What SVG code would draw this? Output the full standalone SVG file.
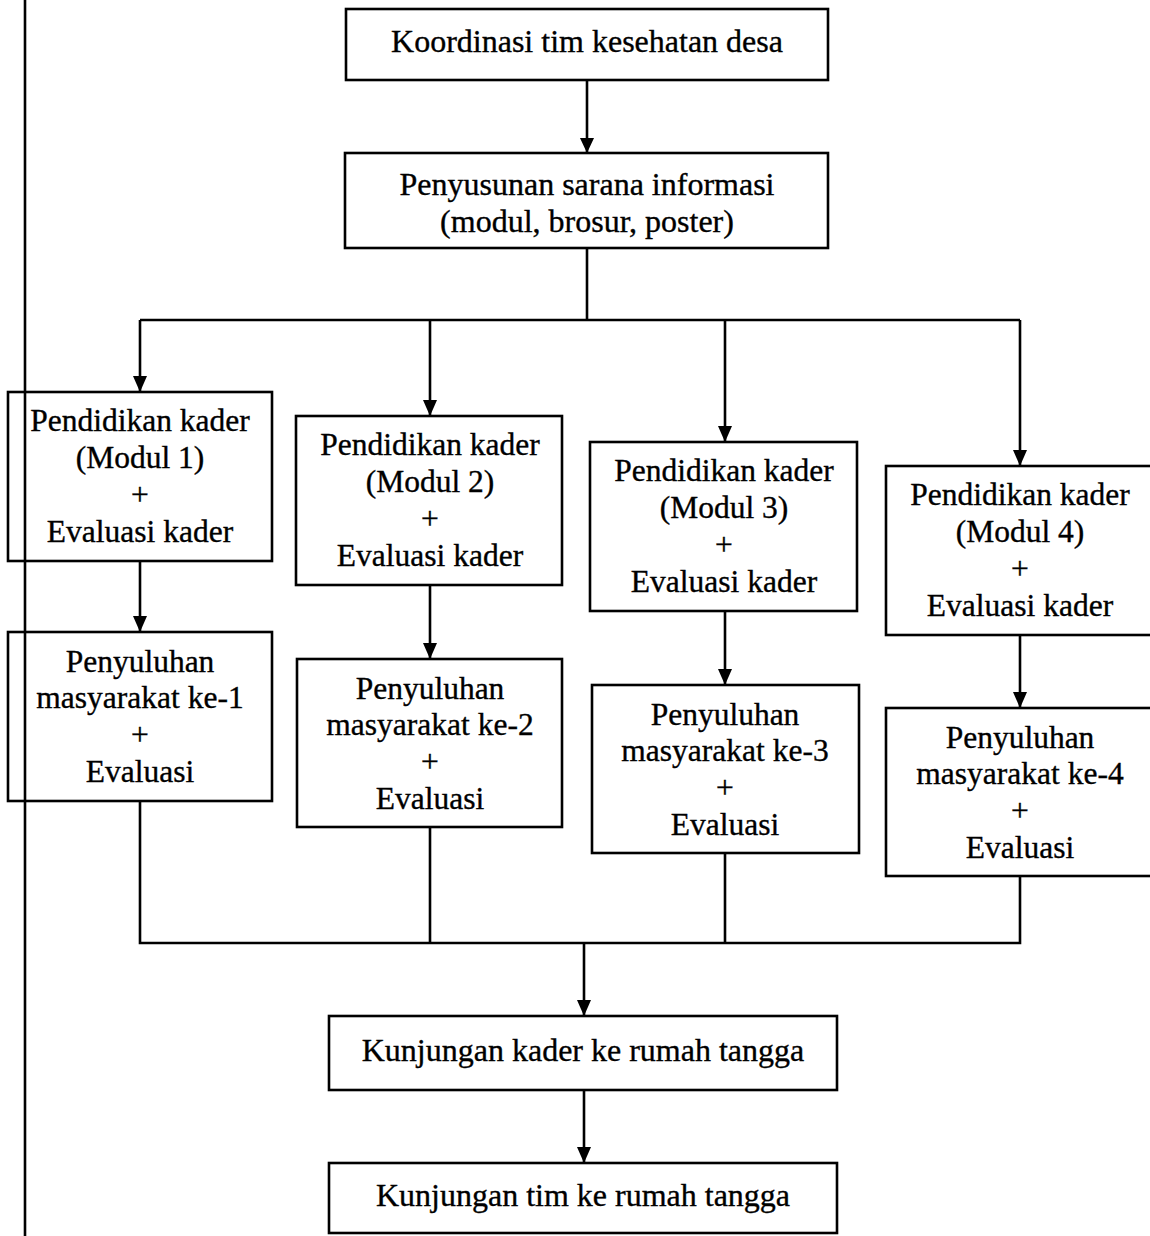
<svg xmlns="http://www.w3.org/2000/svg" width="1150" height="1236" viewBox="0 0 1150 1236">
<defs>
<style>
.box{fill:#fff;stroke:#000;stroke-width:2.6}
.t{font-family:"Liberation Serif","Times New Roman",serif;font-size:31.5px;fill:#000;stroke:#000;stroke-width:0.35;text-anchor:middle}
.c{fill:none;stroke:#000;stroke-width:2.6}
.ah{fill:#000}
</style>
</defs>
<rect width="1150" height="1236" fill="#fff"/>
<g id="connectors">
<path class="c" d="M587,80 V153"/>
<path class="c" d="M587,248 V320"/>
<path class="c" d="M140,320 H1020"/>
<path class="c" d="M140,320 V392"/>
<path class="c" d="M430,320 V416"/>
<path class="c" d="M725,320 V442"/>
<path class="c" d="M1020,320 V466"/>
<path class="c" d="M140,561 V632"/>
<path class="c" d="M430,585 V659"/>
<path class="c" d="M725,611 V685"/>
<path class="c" d="M1020,635 V708"/>
<path class="c" d="M140,801 V943 H1020 V876"/>
<path class="c" d="M430,827 V943"/>
<path class="c" d="M725,853 V943"/>
<path class="c" d="M584,943 V1016"/>
<path class="c" d="M584,1090 V1163"/>
<path class="ah" d="M580,138 L594,138 L587,153 Z"/>
<path class="ah" d="M133,376 L147,376 L140,392 Z"/>
<path class="ah" d="M423,400 L437,400 L430,416 Z"/>
<path class="ah" d="M718,426 L732,426 L725,442 Z"/>
<path class="ah" d="M1013,450 L1027,450 L1020,466 Z"/>
<path class="ah" d="M133,616 L147,616 L140,632 Z"/>
<path class="ah" d="M423,643 L437,643 L430,659 Z"/>
<path class="ah" d="M718,669 L732,669 L725,685 Z"/>
<path class="ah" d="M1013,692 L1027,692 L1020,708 Z"/>
<path class="ah" d="M577,1000 L591,1000 L584,1016 Z"/>
<path class="ah" d="M577,1147 L591,1147 L584,1163 Z"/>
</g>
<g id="n-koordinasi">
<rect class="box" x="346" y="9" width="482" height="71"/>
<text class="t" x="587" y="52" style="font-size:32px">Koordinasi tim kesehatan desa</text>
</g>
<g id="n-penyusunan">
<rect class="box" x="345" y="153" width="483" height="95"/>
<text class="t" x="587" y="195" style="font-size:32px">Penyusunan sarana informasi</text>
<text class="t" x="587" y="232" style="font-size:32px">(modul, brosur, poster)</text>
</g>
<g id="n-modul1">
<rect class="box" x="8" y="392" width="264" height="169"/>
<text class="t" x="140" y="431">Pendidikan kader</text>
<text class="t" x="140" y="468">(Modul 1)</text>
<text class="t" x="140" y="505">+</text>
<text class="t" x="140" y="542">Evaluasi kader</text>
</g>
<g id="n-modul2">
<rect class="box" x="296" y="416" width="266" height="169"/>
<text class="t" x="430" y="455">Pendidikan kader</text>
<text class="t" x="430" y="492">(Modul 2)</text>
<text class="t" x="430" y="529">+</text>
<text class="t" x="430" y="566">Evaluasi kader</text>
</g>
<g id="n-modul3">
<rect class="box" x="590" y="442" width="267" height="169"/>
<text class="t" x="724" y="481">Pendidikan kader</text>
<text class="t" x="724" y="518">(Modul 3)</text>
<text class="t" x="724" y="555">+</text>
<text class="t" x="724" y="592">Evaluasi kader</text>
</g>
<g id="n-modul4">
<rect class="box" x="886" y="466" width="266" height="169"/>
<text class="t" x="1020" y="505">Pendidikan kader</text>
<text class="t" x="1020" y="542">(Modul 4)</text>
<text class="t" x="1020" y="579">+</text>
<text class="t" x="1020" y="616">Evaluasi kader</text>
</g>
<g id="n-penyuluhan1">
<rect class="box" x="8" y="632" width="264" height="169"/>
<text class="t" x="140" y="672">Penyuluhan</text>
<text class="t" x="140" y="708">masyarakat ke-1</text>
<text class="t" x="140" y="745">+</text>
<text class="t" x="140" y="782">Evaluasi</text>
</g>
<g id="n-penyuluhan2">
<rect class="box" x="297" y="659" width="265" height="168"/>
<text class="t" x="430" y="699">Penyuluhan</text>
<text class="t" x="430" y="735">masyarakat ke-2</text>
<text class="t" x="430" y="772">+</text>
<text class="t" x="430" y="809">Evaluasi</text>
</g>
<g id="n-penyuluhan3">
<rect class="box" x="592" y="685" width="267" height="168"/>
<text class="t" x="725" y="725">Penyuluhan</text>
<text class="t" x="725" y="761">masyarakat ke-3</text>
<text class="t" x="725" y="798">+</text>
<text class="t" x="725" y="835">Evaluasi</text>
</g>
<g id="n-penyuluhan4">
<rect class="box" x="886" y="708" width="266" height="168"/>
<text class="t" x="1020" y="748">Penyuluhan</text>
<text class="t" x="1020" y="784">masyarakat ke-4</text>
<text class="t" x="1020" y="821">+</text>
<text class="t" x="1020" y="858">Evaluasi</text>
</g>
<g id="n-kunjungan-kader">
<rect class="box" x="329" y="1016" width="508" height="74"/>
<text class="t" x="583" y="1061" style="font-size:32px">Kunjungan kader ke rumah tangga</text>
</g>
<g id="n-kunjungan-tim">
<rect class="box" x="329" y="1163" width="508" height="70"/>
<text class="t" x="583" y="1206" style="font-size:32px">Kunjungan tim ke rumah tangga</text>
</g>
<g id="margin-line">
<line class="c" x1="25" y1="0" x2="25" y2="1236"/>
</g>
</svg>
